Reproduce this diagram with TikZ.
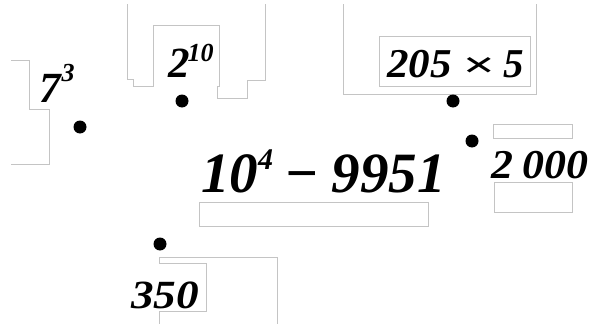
\documentclass[tikz,border=0pt]{standalone}
\usepackage{fontspec}
\setmainfont{Liberation Serif}
\usepackage{xcolor}
\definecolor{framegray}{RGB}{196,196,196}
\usetikzlibrary{positioning}
% raised exponent: raise, size, digits
\newcommand\expo[3]{\raisebox{#1}{\fontsize{#2}{#2}\selectfont #3}}

\begin{document}
\begin{tikzpicture}[
  x=1pt, y=-1pt,
  outline/.style={draw=framegray, line width=0.9pt},
  blank/.style={outline, inner sep=0pt, anchor=north west},
  dot/.style={circle, fill=black, inner sep=0pt, minimum size=13pt},
  num/.style={inner sep=0pt, anchor=base west,
    font=\bfseries\itshape\fontsize{#1}{#1}\selectfont},
]
\useasboundingbox (0,0) rectangle (595,324);

% open outlines
\draw[outline] (11,60) -- (29,60) -- (29,109) -- (49,109) -- (49,164) -- (11,164);
\draw[outline] (127,4) -- (127,79) -- (133,79) -- (133,86) -- (153,86) -- (153,25)
  -- (219,25) -- (219,86) -- (217,86) -- (217,98) -- (247,98) -- (247,80)
  -- (265,80) -- (265,4);
\draw[outline] (343,4) -- (343,94) -- (536,94) -- (536,4);
\draw[outline] (159,324) -- (159,311) -- (206,311) -- (206,263) -- (159,263)
  -- (159,257) -- (277,257) -- (277,324);

% empty boxes
\node[blank, minimum width=151pt, minimum height=50pt] (boxprod) at (379,36) {};
\node[blank, minimum width=79pt, minimum height=14pt] (boxtopr) at (493,124) {};
\node[blank, minimum width=78pt, minimum height=30pt] (boxlowr) at (494,182) {};
\node[blank, minimum width=229pt, minimum height=24pt] (boxdiff) at (199,202) {};

% dots
\node[dot] (dseven) at (80,127) {};
\node[dot] (dpow) at (182,101) {};
\node[dot] (dprod) at (453,101) {};
\node[dot] (dtwok) at (472,141) {};
\node[dot] (dthree) at (160,244) {};

% numbers
\node[num=43] (seven) at (39,102) {7\hspace{1pt}\expo{21pt}{26}{3}};
\node[num=43] (pow) at (168,77) {2\hspace{-2pt}\expo{16pt}{26}{10}};
\node[num=41] (prod) at (387,77)
  {\scalebox{1.05}[1]{205}\hspace{10pt}\scalebox{1.4}[0.9]{×}\hspace{9pt}5};
\node[num=57] (diff) at (201,192)
  {10\expo{23pt}{30}{4}\hspace{11pt}−\hspace{13pt}9951};
\node[num=41] (twok) at (491,178) {\scalebox{1.07}[1]{2\hspace{9pt}000}};
\node[num=40] (three) at (131,308) {\scalebox{1.13}[1]{350}};
\end{tikzpicture}
\end{document}
